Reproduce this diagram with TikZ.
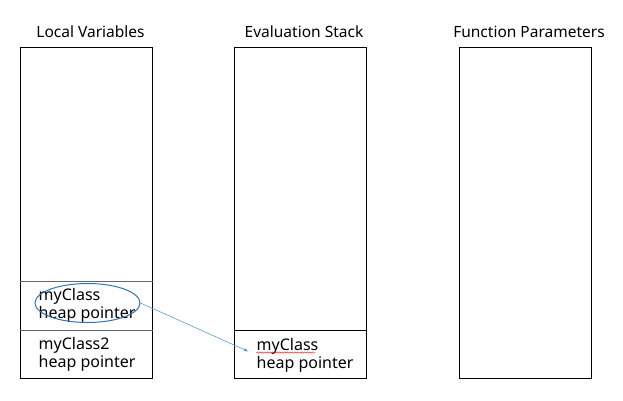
\documentclass[tikz,border=0pt]{standalone}
\usepackage{fontspec}
\setmainfont{Noto Sans}
\usetikzlibrary{shapes.geometric, arrows, decorations.pathmorphing}
\definecolor{ovalblue}{RGB}{46,117,182}
\definecolor{linkblue}{RGB}{91,155,213}
\tikzstyle{stackbox} = [rectangle, draw, line width=0.9pt, minimum width=132pt, minimum height=331pt, inner sep=0]
\tikzstyle{title} = [text centered, anchor=base, font=\fontsize{15.5}{18}\selectfont]
\tikzstyle{cell} = [align=left, anchor=north west, inner sep=0, font=\fontsize{16}{18}\selectfont]
\tikzstyle{divider} = [black!60, line width=0.8pt]
\tikzstyle{arrow} = [linkblue, line width=0.6pt, ->, >=latex]
\tikzstyle{spellmark} = [red, line width=0.4pt, decorate, decoration={snake, amplitude=0.7pt, segment length=2.5pt}]

\begin{document}
\begin{tikzpicture}[x=1pt, y=-1pt]
                \useasboundingbox (0,0) rectangle (623,400);
                \node (locals) [stackbox] at (86.5, 212.5) {};
                \node (evalstack) [stackbox] at (300.5, 212.5) {};
                \node (params) [stackbox] at (525, 212.5) {};
                \node (localstitle) [title] at (90.5, 37.3) {Local Variables};
                \node (evaltitle) [title] at (304, 37.3) {Evaluation Stack};
                \node (paramstitle) [title] at (529, 37.3) {Function Parameters};

                \draw [divider] ([yshift=97pt]locals.south west) -- ([yshift=97pt]locals.south east);
                \draw [divider] ([yshift=48.5pt]locals.south west) -- ([yshift=48.5pt]locals.south east);
                \draw [line width=0.8pt] ([yshift=48pt]evalstack.south west) -- ([yshift=48pt]evalstack.south east);

                \node (var1) [cell] at (38.5, 288.5) {myClass\\heap pointer};
                \node (var2) [cell] at (38.5, 337.5) {myClass2\\heap pointer};
                \node (copy1) [cell] at (256.5, 338) {myClass\\heap pointer};
                \node (mark) [ellipse, draw=ovalblue, line width=1pt, minimum width=105pt, minimum height=39pt] at (87.5, 303) {};

                \draw [arrow] (mark.east) -- ([xshift=-8pt, yshift=-13.5pt]copy1.north west);
                \draw [spellmark] ([yshift=-14.5pt]copy1.north west) -- ++(59,0);
            \end{tikzpicture}
\end{document}
